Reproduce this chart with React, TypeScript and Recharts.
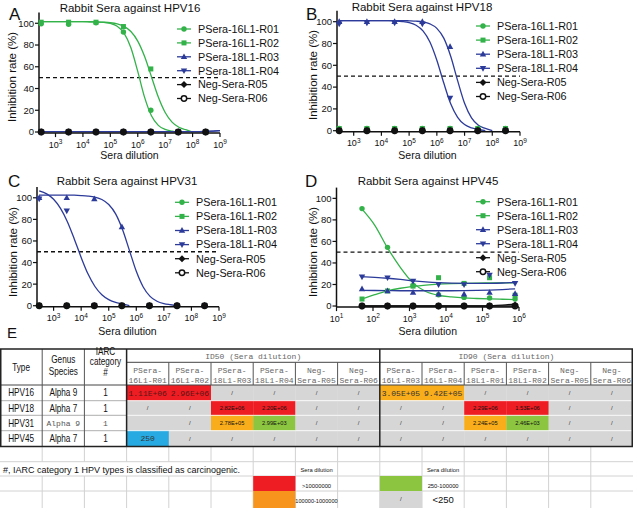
import React from 'react';
import { ComposedChart, Line, Scatter, XAxis, YAxis, ReferenceLine } from 'recharts';

const GREEN = '#33b24a';
const BLUE = '#2c3b9a';
const INK = '#111';
const SANS = '"Liberation Sans", Arial, sans-serif';
const MONO = '"Liberation Mono", "DejaVu Sans Mono", monospace';

const RED = '#ee1d23';
const ORANGE = '#f9ad1b';
const LIME = '#8cc640';
const SKY = '#27aae1';
const GRAY = '#d6d6d6';

// ---- series ----
const seriesNames = ['PSera-16L1-R01', 'PSera-16L1-R02', 'PSera-18L1-R03', 'PSera-18L1-R04', 'Neg-Sera-R05', 'Neg-Sera-R06'];
const seriesColors = [GREEN, GREEN, BLUE, BLUE, INK, INK];
const seriesMarkers = ['circle', 'square', 'triangle', 'triangleDown', 'diamond', 'ring'];

// ---- x values ----
const dilutionTenfold = [3e2, 3e3, 3e4, 3e5, 3e6, 3e7, 3e8];
const dilutionFivefold = [50, 250, 1250, 6250, 31250, 156250, 781250];
const fitTenfold = [3e2, 5.62e2, 1e3, 1.78e3, 3.16e3, 5.62e3, 1e4, 1.78e4, 3.16e4, 5.62e4, 1e5, 1.78e5, 3.16e5, 5.62e5, 1e6, 1.78e6, 3.16e6, 5.62e6, 1e7, 1.78e7, 3.16e7, 5.62e7, 1e8, 1.78e8, 3.16e8, 5.62e8, 1e9];
const fitFivefold = [50, 112, 250, 559, 1250, 2795, 6250, 13975, 31250, 69877, 156250, 349386, 781250];

const decadeTicks = [1e3, 1e4, 1e5, 1e6, 1e7, 1e8, 1e9];
const decadeTicksD = [10, 100, 1e3, 1e4, 1e5, 1e6];
const rateTicks = [0, 20, 40, 60, 80, 100];

// ---- HPV16 ----
const hpv16R01 = [99.5, 99, 100.5, 92, 20, 0, 0];
const hpv16R02 = [101, 101, 101, 97, 58, 0, 0];
const hpv16R03 = [0, 0, 0, 0, 0, 0, 0];
const hpv16R04 = [0, 0, 0, 0, 0, 0, 0];
const hpv16R05 = [0, 0, 0, 0, 0, 0, 0];
const hpv16R06 = [0, 0, 0, 0, 0, 0, 0];
const hpv16R01Fit = [101.5, 101.5, 101.5, 101.5, 101.5, 101.5, 101.5, 101.4, 101.2, 100.9, 99.9, 97.3, 90.9, 77.5, 55.7, 31.8, 14.9, 6.1, 2.4, 0.9, 0, null, null, null, null, null, null];
const hpv16R02Fit = [101.5, 101.5, 101.5, 101.5, 101.5, 101.5, 101.5, 101.4, 101.3, 101, 100.5, 99.4, 97.1, 92.4, 83.6, 69.4, 50.8, 32.1, 17.9, 9.1, 4.4, 2.1, 0, null, null, null, null];
const hpv16R03Fit = [0.3, 0.3, 0.3, 0.3, 0.3, 0.3, 0.3, 0.3, 0.3, 0.3, 0.3, 0.3, 0.3, 0.3, 0.3, 0.3, 0.3, 0.3, 0.3, 0.3, 0.3, 0.3, 0.3, 0.4, 0.6, 0.9, 1.3];
const hpv16R04Fit = [0.3, 0.3, 0.3, 0.3, 0.3, 0.3, 0.3, 0.3, 0.3, 0.3, 0.3, 0.3, 0.3, 0.3, 0.3, 0.3, 0.3, 0.3, 0.3, 0.3, 0.3, 0.3, 0.3, 0.4, 0.6, 0.9, 1.3];

// ---- HPV18 ----
const hpv18R01 = [2, 2, 2, 2, 2, 2, 2];
const hpv18R02 = [2, 2, 2, 2, 2, 2, 2];
const hpv18R03 = [100, 100, 100, 100, 77, 0, 0];
const hpv18R04 = [98, 99, 99, 98, 30, 0, 0];
const hpv18R05 = [0, 0, 0, 0, 0, 0, 0];
const hpv18R06 = [0, 0, 0, 0, 0, 0, 0];
const hpv18R03Fit = [101, 101, 101, 101, 101, 101, 101, 101, 101, 101, 100.8, 100.5, 99.8, 98, 93.9, 84.9, 68.3, 45.9, 25.1, 11.7, 5, 2.1, 0, null, null, null, null];
const hpv18R04Fit = [101, 101, 101, 101, 101, 101, 101, 101, 100.7, 100.2, 99.2, 96.8, 91.6, 81.4, 64.7, 43.7, 24.7, 12.3, 5.6, 2.5, 1.1, 0, null, null, null, null, null];

// ---- HPV31 ----
const hpv31R01 = [0, 0, 0, 0, 0, 0, 0];
const hpv31R02 = [0, 0, 0, 0, 0, 0, 0];
const hpv31R03 = [100, 100, 99, 73, 0, 0, 0];
const hpv31R04 = [99, 88, 0, 0, 0, 0, 0];
const hpv31R05 = [0, 0, 0, 0, 0, 0, 0];
const hpv31R06 = [0, 0, 0, 0, 0, 0, 0];
const hpv31R03Fit = [102.5, 102.5, 102.5, 102.5, 102.5, 102.4, 102.1, 101.6, 100.6, 98.4, 93.8, 85.1, 70.6, 51.3, 31.9, 17.4, 8.7, 4.1, 1.9, 0.9, 0, null, null, null, null, null, null];
const hpv31R04Fit = [106.5, 103.6, 98.6, 90.2, 77.9, 61.9, 44.7, 29.3, 17.8, 10.2, 5.7, 3.1, 1.7, 0, null, null, null, null, null, null, null, null, null, null, null, null, null];

// ---- HPV45 ----
const hpv45R01 = [90.5, 54.5, 19, 10.5, 8, 7.5, 6.5];
const hpv45R02 = [6.5, 14, 18.5, 26.3, 21, 26.3, 10];
const hpv45R03 = [15.8, 14, 12.7, 11, 11, 12.5, 11.5];
const hpv45R04 = [27.2, 26.3, 23.2, 20, 20, 28.8, 21];
const hpv45R05 = [0, 0, 0, 0, 0, 0, 1];
const hpv45R06 = [0, 0, 0, 0, 0, 0, 0];
const hpv45R01Fit = [90, 75, 54, 36, 21.5, 13.5, 10, 8.5, 7.5, 7, 6.6, 6.3, 6];
const hpv45R02Fit = [6.5, 10.5, 14, 16.5, 18.3, 19.5, 20.3, 20.8, 21.1, 21.3, 21.4, 21.5, 21.5];
const hpv45R03Fit = [14.5, 14.4, 14.3, 14.2, 14.2, 14.2, 14.2, 14.2, 14.3, 14.5, 14.8, 15.3, 16];
const hpv45R04Fit = [27.2, 26.6, 25.8, 24.7, 23.4, 22.4, 21.7, 21.3, 21.1, 21, 21.1, 21.4, 22];
const hpv45R05Fit = [0, 0, 0, 0, 0, 0, 0, 0, 0, 0, 0.2, 0.8, 2];
const hpv45R06Fit = [0, 0, 0, 0, 0, 0, 0, 0, 0, 0, 0, 0, 0];

// ---- table ----
const hpvTypes = ['HPV16', 'HPV18', 'HPV31', 'HPV45'];
const genusSpecies = ['Alpha 9', 'Alpha 7', 'Alpha 9', 'Alpha 7'];
const iarcCategory = ['1', '1', '1', '1'];
const id50Columns = ['PSera-16L1-R01', 'PSera-16L1-R02', 'PSera-18L1-R03', 'PSera-18L1-R04', 'Neg-Sera-R05', 'Neg-Sera-R06'];
const id90Columns = ['PSera-16L1-R03', 'PSera-16L1-R04', 'PSera-18L1-R01', 'PSera-18L1-R02', 'Neg-Sera-R05', 'Neg-Sera-R06'];
const id50Values = [
  ['1.11E+06', '2.96E+06', '/', '/', '/', '/'],
  ['/', '/', '2.82E+06', '2.20E+06', '/', '/'],
  ['', '/', '2.78E+05', '2.99E+03', '/', '/'],
  ['250', '/', '/', '/', '/', '/'],
];
const id90Values = [
  ['3.05E+05', '9.42E+05', '/', '/', '/', '/'],
  ['/', '/', '2.29E+06', '1.53E+06', '/', '/'],
  ['/', '/', '2.24E+05', '2.46E+03', '/', '/'],
  ['/', '/', '/', '/', '/', '/'],
];
const footnote = '#, IARC category 1 HPV types is classified as carcinogenic.';

type Panel = {
  left: number; top: number; yAxisWidth: number; plotWidth: number; plotTop: number; plotHeight: number;
  xDomain: [number, number]; xTicks: number[];
  pointX: number[]; points: number[][];
  fitX: number[]; fits: ((number | null)[] | null)[];
  title: string; titleX: number; titleY: number;
  letter: string; letterX: number; letterY: number;
  yLabelX: number; yLabelY: number; xLabelX: number; xLabelY: number;
  legendX: number; legendY: number; legendStep: number;
};

const panels: Panel[] = [
  {
    left: 0, top: 0, yAxisWidth: 39, plotWidth: 181, plotTop: 12.4, plotHeight: 120.7,
    xDomain: [250, 1e9], xTicks: decadeTicks,
    pointX: dilutionTenfold, points: [hpv16R01, hpv16R02, hpv16R03, hpv16R04, hpv16R05, hpv16R06],
    fitX: fitTenfold, fits: [hpv16R01Fit, hpv16R02Fit, hpv16R03Fit, hpv16R04Fit, null, null],
    title: 'Rabbit Sera against HPV16', titleX: 130, titleY: 11.8,
    letter: 'A', letterX: 9, letterY: 20,
    yLabelX: 12, yLabelY: 77, xLabelX: 129.5, xLabelY: 159,
    legendX: 177, legendY: 29, legendStep: 13.9,
  },
  {
    left: 297, top: 0, yAxisWidth: 40, plotWidth: 183, plotTop: 10.8, plotHeight: 121,
    xDomain: [250, 1e9], xTicks: decadeTicks,
    pointX: dilutionTenfold, points: [hpv18R01, hpv18R02, hpv18R03, hpv18R04, hpv18R05, hpv18R06],
    fitX: fitTenfold, fits: [null, null, hpv18R03Fit, hpv18R04Fit, null, null],
    title: 'Rabbit Sera against HPV18', titleX: 422, titleY: 10.5,
    letter: 'B', letterX: 306, letterY: 19.5,
    yLabelX: 313, yLabelY: 75, xLabelX: 427.5, xLabelY: 159,
    legendX: 476, legendY: 26, legendStep: 14.1,
  },
  {
    left: 0, top: 175, yAxisWidth: 37, plotWidth: 182, plotTop: 12, plotHeight: 119.8,
    xDomain: [250, 1e9], xTicks: decadeTicks,
    pointX: dilutionTenfold, points: [hpv31R01, hpv31R02, hpv31R03, hpv31R04, hpv31R05, hpv31R06],
    fitX: fitTenfold, fits: [null, null, hpv31R03Fit, hpv31R04Fit, null, null],
    title: 'Rabbit Sera against HPV31', titleX: 127, titleY: 185.3,
    letter: 'C', letterX: 8, letterY: 186.7,
    yLabelX: 13, yLabelY: 252, xLabelX: 127.5, xLabelY: 335,
    legendX: 175, legendY: 202.3, legendStep: 14.1,
  },
  {
    left: 297, top: 175, yAxisWidth: 39.5, plotWidth: 182.5, plotTop: 12.6, plotHeight: 119.5,
    xDomain: [10, 1e6], xTicks: decadeTicksD,
    pointX: dilutionFivefold, points: [hpv45R01, hpv45R02, hpv45R03, hpv45R04, hpv45R05, hpv45R06],
    fitX: fitFivefold, fits: [hpv45R01Fit, hpv45R02Fit, hpv45R03Fit, hpv45R04Fit, hpv45R05Fit, hpv45R06Fit],
    title: 'Rabbit Sera against HPV45', titleX: 428, titleY: 185.3,
    letter: 'D', letterX: 305, letterY: 186.7,
    yLabelX: 313, yLabelY: 252, xLabelX: 427.8, xLabelY: 335,
    legendX: 476, legendY: 201.7, legendStep: 14,
  },
];

const toPoints = (xs: number[], ys: (number | null)[]) =>
  xs.map((x, i) => ({ x, y: ys[i] })).filter((p) => p.y !== null && p.y !== undefined);

function Marker({ cx, cy, kind, color, legend }: any) {
  switch (kind) {
    case 'circle':
      return <circle cx={cx} cy={cy} r={2.7} fill={color} />;
    case 'square':
      return <rect x={cx - 2.5} y={cy - 2.5} width={5} height={5} fill={color} />;
    case 'triangle':
      return <polygon points={`${cx},${cy - 3.4} ${cx + 3.2},${cy + 2.3} ${cx - 3.2},${cy + 2.3}`} fill={color} />;
    case 'triangleDown':
      return <polygon points={`${cx},${cy + 3.4} ${cx + 3.2},${cy - 2.3} ${cx - 3.2},${cy - 2.3}`} fill={color} />;
    case 'diamond':
      return <polygon points={`${cx},${cy - 3.5} ${cx + 3.5},${cy} ${cx},${cy + 3.5} ${cx - 3.5},${cy}`} fill={color} />;
    default:
      return <circle cx={cx} cy={cy} r={2.7} fill={legend ? '#fff' : 'none'} stroke={color} strokeWidth={1.5} />;
  }
}

function PowerTick(props: any) {
  const { x, y, payload } = props;
  const exp = Math.round(Math.log10(payload.value));
  return (
    <text x={x} y={y + 8.5} textAnchor="middle" fontSize={9} fill={INK}>
      10<tspan dy={-3.5} fontSize={6.5}>{exp}</tspan>
    </text>
  );
}

function DosePanel({ p }: { p: Panel }) {
  const right = 12;
  const width = p.yAxisWidth + p.plotWidth + right;
  const height = p.plotTop + p.plotHeight + 27;
  const lineOrder = [4, 5, 0, 1, 2, 3];
  const pointOrder = [0, 1, 2, 3, 5, 4];
  return (
    <div style={{ position: 'absolute', left: p.left, top: p.top }}>
      <ComposedChart width={width} height={height} margin={{ top: p.plotTop, right, bottom: 0, left: 0 }}>
        <XAxis
          type="number"
          dataKey="x"
          scale="log"
          domain={p.xDomain}
          ticks={p.xTicks}
          interval={0}
          height={27}
          tickSize={4}
          tickMargin={2}
          tick={(t: any) => <PowerTick {...t} />}
          axisLine={{ stroke: INK, strokeWidth: 1.5 }}
          tickLine={{ stroke: INK, strokeWidth: 1.2 }}
        />
        <YAxis
          type="number"
          dataKey="y"
          domain={[-1, 110]}
          ticks={rateTicks}
          interval={0}
          width={p.yAxisWidth}
          tickSize={4}
          tickMargin={1}
          tick={{ fontSize: 9.5, fill: INK }}
          axisLine={{ stroke: INK, strokeWidth: 1.5 }}
          tickLine={{ stroke: INK, strokeWidth: 1.2 }}
        />
        <ReferenceLine y={50} stroke={INK} strokeWidth={1.3} strokeDasharray="4 3" />
        {lineOrder.map((i) =>
          p.fits[i] ? (
            <Line
              key={'fit' + i}
              data={toPoints(p.fitX, p.fits[i] as (number | null)[])}
              dataKey="y"
              type="monotone"
              stroke={seriesColors[i]}
              strokeWidth={1.3}
              dot={false}
              activeDot={false}
              legendType="none"
              isAnimationActive={false}
            />
          ) : null
        )}
        {pointOrder.map((i) => (
          <Scatter
            key={'pts' + i}
            data={toPoints(p.pointX, p.points[i])}
            dataKey="y"
            legendType="none"
            isAnimationActive={false}
            shape={(s: any) => <Marker cx={s.cx} cy={s.cy} kind={seriesMarkers[i]} color={seriesColors[i]} />}
          />
        ))}
      </ComposedChart>
    </div>
  );
}

function PanelText({ p }: { p: Panel }) {
  return (
    <g fontFamily={SANS} fill={INK}>
      <text x={p.titleX} y={p.titleY} fontSize={11.5} textAnchor="middle">{p.title}</text>
      <text x={p.letterX} y={p.letterY} fontSize={17}>{p.letter}</text>
      <text
        x={p.yLabelX}
        y={p.yLabelY}
        fontSize={11.5}
        textAnchor="middle"
        dy="0.35em"
        transform={`rotate(-90 ${p.yLabelX} ${p.yLabelY})`}
      >
        Inhibition rate (%)
      </text>
      <text x={p.xLabelX} y={p.xLabelY} fontSize={10.5} textAnchor="middle">Sera dilution</text>
      {seriesNames.map((name, i) => {
        const cy = p.legendY + i * p.legendStep;
        return (
          <g key={name}>
            <line x1={p.legendX} x2={p.legendX + 14} y1={cy} y2={cy} stroke={seriesColors[i]} strokeWidth={1.3} />
            <Marker cx={p.legendX + 7} cy={cy} kind={seriesMarkers[i]} color={seriesColors[i]} legend />
            <text x={p.legendX + 21} y={cy + 3.8} fontSize={10.8}>{name}</text>
          </g>
        );
      })}
    </g>
  );
}

function Txt({ x, y, size, family = SANS, fill = INK, squeeze = 1, anchor = 'middle', children }: any) {
  return (
    <text
      transform={`translate(${x} ${y}) scale(${squeeze} 1)`}
      fontSize={size}
      fontFamily={family}
      fill={fill}
      textAnchor={anchor}
    >
      {children}
    </text>
  );
}

const splitHeader = (name: string) => {
  const k = name.indexOf('-') + 1;
  return [name.slice(0, k), name.slice(k)];
};

function cellFill(v: string) {
  if (v === '/' || v === '') return GRAY;
  const n = Number(v);
  if (n >= 1e6) return RED;
  if (n >= 1e5) return ORANGE;
  if (n > 250) return LIME;
  return SKY;
}

const COL_W = 633 / 15;
const HEAD_TOP = 349;
const HEAD_MID = 362.3;
const HEAD_BOTTOM = 385;
const ROW_EDGES = [385, 400.7, 415.3, 430.7, 446.5];
const NOTE_EDGES = [446.5, 461.7, 476, 491, 508];
const valueFontByRow = ['mono', 'sans', 'sans', 'mono'];
const infoFontByRow = ['sans', 'sans', 'mono', 'sans'];

function ResultTable() {
  const W = COL_W;
  const cols15 = Array.from({ length: 14 }, (_, k) => k + 1);
  const headers = [...id50Columns, ...id90Columns];
  return (
    <g>
      <text x={7} y={338.3} fontSize={15} fontFamily={SANS} fill={INK}>E</text>

      {/* lower sheet grid */}
      {NOTE_EDGES.slice(1, 4).map((y) => (
        <line key={'nh' + y} x1={0} x2={633} y1={y} y2={y} stroke="#d2d2d2" strokeWidth={1} />
      ))}
      {[0, 1, 2, 3].map((r) =>
        cols15
          .filter((k) => r !== 1 || k >= 6)
          .map((k) => (
            <line key={'nv' + r + '-' + k} x1={k * W} x2={k * W} y1={NOTE_EDGES[r]} y2={NOTE_EDGES[r + 1]} stroke="#d2d2d2" strokeWidth={1} />
          ))
      )}
      <rect x={6 * W} y={476} width={W} height={15} fill={RED} />
      <rect x={9 * W} y={476} width={W} height={15} fill={LIME} />
      <rect x={6 * W} y={491} width={W} height={17} fill="#f7941d" />
      <rect x={9 * W} y={491} width={W} height={17} fill={GRAY} />
      <Txt x={3} y={472.5} size={9} anchor="start">{footnote}</Txt>
      <Txt x={7.5 * W} y={471.5} size={5.8}>Sera dilution</Txt>
      <Txt x={10.5 * W} y={471.5} size={5.8}>Sera dilution</Txt>
      <Txt x={7.5 * W} y={488} size={5.8}>&gt;10000000</Txt>
      <Txt x={10.5 * W} y={488} size={5.8}>250-100000</Txt>
      <Txt x={7.5 * W} y={502.5} size={5.6}>100000-1000000</Txt>
      <Txt x={9.5 * W} y={500.5} size={6} fill="#333">/</Txt>
      <Txt x={10.5 * W} y={503} size={9.5}>&lt;250</Txt>

      {/* table body fills */}
      <rect x={0} y={HEAD_TOP} width={633} height={ROW_EDGES[4] - HEAD_TOP} fill="#fff" />
      {hpvTypes.map((_, r) =>
        [...id50Values[r], ...id90Values[r]].map((v, c) => (
          <rect
            key={'f' + r + '-' + c}
            x={(3 + c) * W}
            y={ROW_EDGES[r]}
            width={W + 0.3}
            height={ROW_EDGES[r + 1] - ROW_EDGES[r]}
            fill={cellFill(v)}
          />
        ))
      )}
      {ROW_EDGES.slice(1, 4).map((y) => (
        <g key={'rh' + y}>
          <line x1={0} x2={3 * W} y1={y} y2={y} stroke="#999" strokeWidth={0.8} />
          <line x1={3 * W} x2={633} y1={y} y2={y} stroke="#fff" strokeWidth={0.8} />
        </g>
      ))}

      {/* header grid */}
      <line x1={3 * W} x2={633} y1={HEAD_MID} y2={HEAD_MID} stroke="#444" strokeWidth={1} />
      <line x1={0} x2={633} y1={HEAD_BOTTOM} y2={HEAD_BOTTOM} stroke="#444" strokeWidth={1} />
      {[1, 2].map((k) => (
        <line key={'iv' + k} x1={k * W} x2={k * W} y1={HEAD_TOP} y2={ROW_EDGES[4]} stroke="#555" strokeWidth={1} />
      ))}
      {cols15
        .filter((k) => k > 3 && k !== 9)
        .map((k) => (
          <line key={'sv' + k} x1={k * W} x2={k * W} y1={HEAD_MID} y2={HEAD_BOTTOM} stroke="#555" strokeWidth={1} />
        ))}
      {[3, 9].map((k) => (
        <line key={'tv' + k} x1={k * W} x2={k * W} y1={HEAD_TOP} y2={ROW_EDGES[4]} stroke="#222" strokeWidth={1.5} />
      ))}
      <rect x={0.75} y={HEAD_TOP} width={631.5} height={ROW_EDGES[4] - HEAD_TOP} fill="none" stroke="#222" strokeWidth={1.5} />

      {/* header text */}
      <Txt x={W / 2} y={370.5} size={10} squeeze={0.82}>Type</Txt>
      <Txt x={1.5 * W} y={363} size={10} squeeze={0.82}>Genus</Txt>
      <Txt x={1.5 * W} y={375} size={10} squeeze={0.82}>Species</Txt>
      <Txt x={2.5 * W} y={355} size={10} squeeze={0.82}>IARC</Txt>
      <Txt x={2.5 * W} y={365} size={10} squeeze={0.82}>category</Txt>
      <Txt x={2.5 * W} y={375.5} size={10} squeeze={0.82}>#</Txt>
      <Txt x={6 * W} y={359} size={8} family={MONO} fill="#666">ID50 (Sera dilution)</Txt>
      <Txt x={12 * W} y={359} size={8} family={MONO} fill="#666">ID90 (Sera dilution)</Txt>
      {headers.map((h, c) => {
        const [a, b] = splitHeader(h);
        return (
          <g key={'h' + c}>
            <Txt x={(3.5 + c) * W} y={373} size={8} family={MONO} fill="#666">{a}</Txt>
            <Txt x={(3.5 + c) * W} y={383} size={8} family={MONO} fill="#666">{b}</Txt>
          </g>
        );
      })}

      {/* body text */}
      {hpvTypes.map((t, r) => {
        const cy = (ROW_EDGES[r] + ROW_EDGES[r + 1]) / 2;
        const infoMono = infoFontByRow[r] === 'mono';
        const valMono = valueFontByRow[r] === 'mono';
        return (
          <g key={'row' + t}>
            <Txt x={W / 2} y={cy + 3.5} size={10} squeeze={0.82}>{t}</Txt>
            {infoMono ? (
              <>
                <Txt x={1.5 * W} y={cy + 2.8} size={8} family={MONO} fill="#555">{genusSpecies[r]}</Txt>
                <Txt x={2.5 * W} y={cy + 2.8} size={8} family={MONO} fill="#555">{iarcCategory[r]}</Txt>
              </>
            ) : (
              <>
                <Txt x={1.5 * W} y={cy + 3.5} size={10} squeeze={0.82}>{genusSpecies[r]}</Txt>
                <Txt x={2.5 * W} y={cy + 3.5} size={10} squeeze={0.82}>{iarcCategory[r]}</Txt>
              </>
            )}
            {[...id50Values[r], ...id90Values[r]].map((v, c) => {
              const x = (3.5 + c) * W;
              if (v === '') return null;
              if (v === '/') return <Txt key={c} x={x} y={cy + 2} size={6} fill="#333">/</Txt>;
              if (valMono)
                return (
                  <Txt key={c} x={x} y={cy + 2.8} size={8} family={MONO} fill={cellFill(v) === RED ? '#5a1515' : '#333'}>
                    {v}
                  </Txt>
                );
              return <Txt key={c} x={x} y={cy + 2.1} size={6} squeeze={0.95}>{v}</Txt>;
            })}
          </g>
        );
      })}
    </g>
  );
}

export default function App() {
  return (
    <div
      style={{
        position: 'absolute',
        left: 0,
        top: 0,
        width: 633,
        height: 508,
        background: '#fff',
        fontFamily: SANS,
        overflow: 'hidden',
      }}
    >
      {panels.map((p) => (
        <DosePanel key={p.letter} p={p} />
      ))}
      <svg width={633} height={508} style={{ position: 'absolute', left: 0, top: 0, pointerEvents: 'none' }}>
        {panels.map((p) => (
          <PanelText key={p.letter} p={p} />
        ))}
        <ResultTable />
      </svg>
    </div>
  );
}
